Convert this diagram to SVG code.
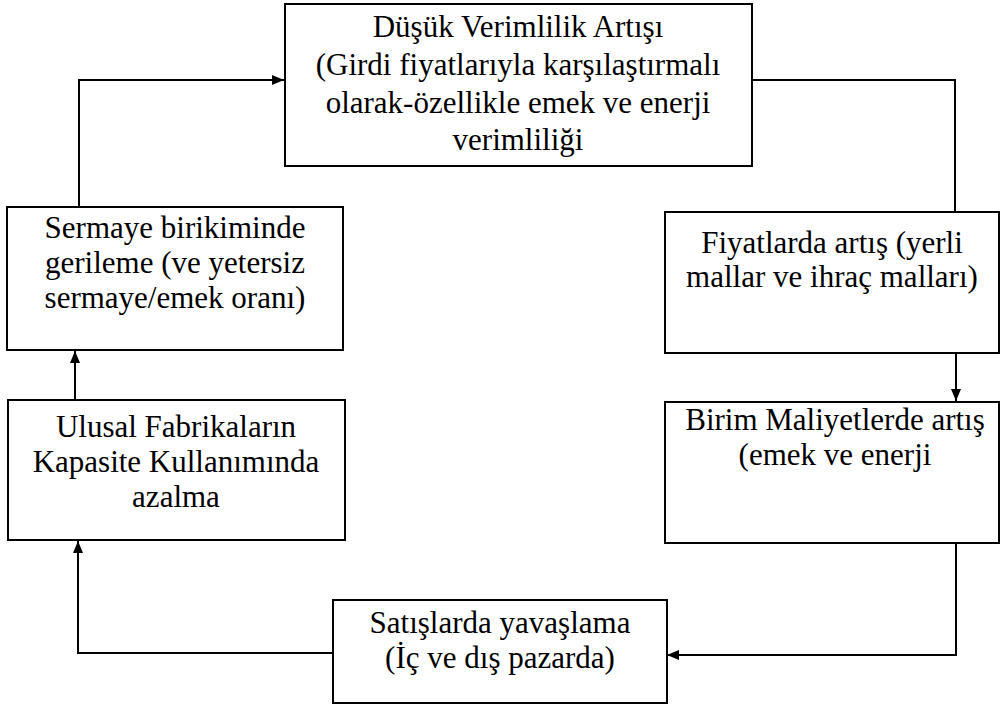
<svg xmlns="http://www.w3.org/2000/svg" width="1001" height="705" viewBox="0 0 1001 705">
<style>
.box{fill:#fff;stroke:#000;stroke-width:2}
.t{font-family:"Liberation Serif","Times New Roman",serif;font-size:31px;fill:#000;text-anchor:middle}
.c{fill:none;stroke:#000;stroke-width:2}
</style>
<defs>
<marker id="ah" markerWidth="12" markerHeight="10" refX="12" refY="5" orient="auto" markerUnits="userSpaceOnUse">
<path d="M0,0 L12,5 L0,10 Z" fill="#000"/>
</marker>
</defs>
<rect width="1001" height="705" fill="#fff"/>
<g id="connectors">
<path class="c" d="M752,80 H955 V212"/>
<path class="c" d="M956,353 V401" marker-end="url(#ah)"/>
<path class="c" d="M956,543 V655 H667" marker-end="url(#ah)"/>
<path class="c" d="M333,653 H78 V541" marker-end="url(#ah)"/>
<path class="c" d="M75,400 V351" marker-end="url(#ah)"/>
<path class="c" d="M79,207 V80 H284" marker-end="url(#ah)"/>
</g>
<g id="n1">
<rect class="box" x="285" y="4" width="467" height="162"/>
<text class="t" x="518" y="37">Düşük Verimlilik Artışı</text>
<text class="t" x="518" y="75">(Girdi fiyatlarıyla karşılaştırmalı</text>
<text class="t" x="518" y="113">olarak-özellikle emek ve enerji</text>
<text class="t" x="518" y="150">verimliliği</text>
</g>
<g id="n2">
<rect class="box" x="665" y="212" width="334" height="141"/>
<text class="t" x="832" y="253">Fiyatlarda artış (yerli</text>
<text class="t" x="832" y="287">mallar ve ihraç malları)</text>
</g>
<g id="n3">
<rect class="box" x="665" y="402" width="334" height="141"/>
<text class="t" x="835" y="430">Birim Maliyetlerde artış</text>
<text class="t" x="835" y="465">(emek ve enerji</text>
</g>
<g id="n4">
<rect class="box" x="333" y="600" width="334" height="103"/>
<text class="t" x="500" y="633">Satışlarda yavaşlama</text>
<text class="t" x="500" y="668">(İç ve dış pazarda)</text>
</g>
<g id="n5">
<rect class="box" x="8" y="400" width="337" height="140"/>
<text class="t" x="176" y="437">Ulusal Fabrikaların</text>
<text class="t" x="176" y="472">Kapasite Kullanımında</text>
<text class="t" x="176" y="507">azalma</text>
</g>
<g id="n6">
<rect class="box" x="7" y="207" width="336" height="143"/>
<text class="t" x="175" y="238">Sermaye birikiminde</text>
<text class="t" x="175" y="273">gerileme (ve yetersiz</text>
<text class="t" x="175" y="308">sermaye/emek oranı)</text>
</g>
</svg>
